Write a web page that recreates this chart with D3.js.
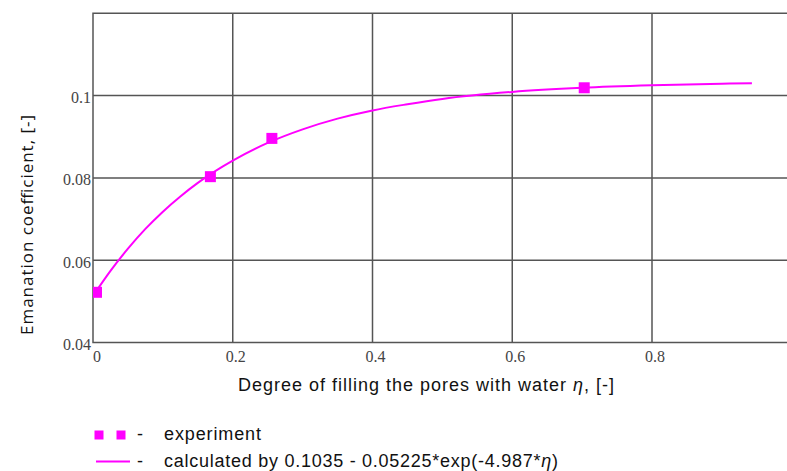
<!DOCTYPE html>
<html><head><meta charset="utf-8">
<script src="https://cdn.jsdelivr.net/npm/d3@7"></script>
<style>body{margin:0;background:#fff;} svg{display:block;}</style>
</head><body>
<svg id="c" width="787" height="471"></svg>
<script>
const xTicks = [0, 0.2, 0.4, 0.6, 0.8];
const yTicks = [0.04, 0.06, 0.08, 0.1];
const expX = [0.005, 0.168, 0.256, 0.703];
const expY = [0.0522, 0.0803, 0.0896, 0.1019];
const calcX = [0, 0.025, 0.05, 0.075, 0.1, 0.125, 0.15, 0.2, 0.25, 0.3, 0.35, 0.4, 0.45, 0.5, 0.6, 0.7, 0.8, 0.9, 0.943];
const calcY = [0.0513, 0.0574, 0.0628, 0.0676, 0.0718, 0.0755, 0.0788, 0.0842, 0.0885, 0.0918, 0.0944, 0.0964, 0.0979, 0.0992, 0.1009, 0.1019, 0.1025, 0.1029, 0.1030];

const svg = d3.select("#c");
const L = 93, T = 13.3, B = 342.5;
const x = d3.scaleLinear().domain([0, 1]).range([L, L + 698.75]);
const y = d3.scaleLinear().domain([0.04, 0.12]).range([B, T]);
const gridCol = "#555";

// grid
svg.append("g").selectAll("line").data(xTicks.slice(1)).join("line")
  .attr("x1", d => x(d)).attr("x2", d => x(d)).attr("y1", T).attr("y2", B)
  .attr("stroke", gridCol).attr("stroke-width", 1.5);
svg.append("g").selectAll("line").data(yTicks.slice(1)).join("line")
  .attr("x1", L).attr("x2", 787).attr("y1", d => y(d)).attr("y2", d => y(d))
  .attr("stroke", gridCol).attr("stroke-width", 1.5);
// frame
svg.append("path").attr("d", `M787,${T}H${L}V${B}H787`).attr("fill", "none")
  .attr("stroke", gridCol).attr("stroke-width", 1.5);

// tick labels
const tf = d3.format("~g");
svg.append("g").selectAll("text").data(yTicks).join("text")
  .attr("x", L - 2).attr("y", d => y(d) + 7.5).attr("text-anchor", "end")
  .attr("font-family", "Liberation Serif").attr("font-size", 16).attr("fill", "#444")
  .text(d => tf(d));
svg.append("g").selectAll("text").data(xTicks).join("text")
  .attr("x", d => x(d) + (d === 0 ? 4 : 3)).attr("y", B + 19.5).attr("text-anchor", "middle")
  .attr("font-family", "Liberation Serif").attr("font-size", 16).attr("fill", "#444")
  .text(d => tf(d));

// clip
svg.append("clipPath").attr("id", "pc").append("rect")
  .attr("x", L).attr("y", T).attr("width", 787 - L).attr("height", B - T);
const g = svg.append("g").attr("clip-path", "url(#pc)");

const line = d3.line().x(d => x(d[0])).y(d => y(d[1])).curve(d3.curveMonotoneX);
g.append("path").datum(calcX.map((v, i) => [v, calcY[i]])).attr("d", line)
  .attr("fill", "none").attr("stroke", "#ff00ff").attr("stroke-width", 2);
const ms = 11;
g.selectAll("rect.m").data(expX.map((v, i) => [v, expY[i]])).join("rect")
  .attr("class", "m").attr("x", d => x(d[0]) - ms / 2).attr("y", d => y(d[1]) - ms / 2)
  .attr("width", ms).attr("height", ms).attr("fill", "#ff00ff");

// axis titles
const xt = svg.append("text").attr("x", 238).attr("y", 391)
  .attr("textLength", 376).attr("lengthAdjust", "spacing")
  .attr("font-family", "Liberation Sans").attr("font-size", 18).attr("fill", "#111");
xt.append("tspan").text("Degree of filling the pores with water ");
xt.append("tspan").attr("font-style", "italic").text("η");
xt.append("tspan").text(", [-]");

svg.append("text").attr("transform", "translate(33,335) rotate(-90)")
  .attr("textLength", 220).attr("lengthAdjust", "spacing")
  .attr("font-family", "Open Sans").attr("font-size", 17).attr("fill", "#111")
  .text("Emanation coefficient, [-]");

// legend
const lg = svg.append("g").attr("font-family", "Liberation Sans").attr("font-size", 18).attr("fill", "#111");
[99, 121].forEach(cx => lg.append("rect").attr("x", cx - 4.5).attr("y", 430.5).attr("width", 9).attr("height", 9).attr("fill", "#ff00ff"));
lg.append("line").attr("x1", 96).attr("x2", 130).attr("y1", 461.5).attr("y2", 461.5).attr("stroke", "#ff00ff").attr("stroke-width", 2);
lg.append("text").attr("x", 137).attr("y", 440).text("-");
lg.append("text").attr("x", 137).attr("y", 467).text("-");
lg.append("text").attr("x", 164).attr("y", 440).attr("textLength", 97).attr("lengthAdjust", "spacing").text("experiment");
const l2 = lg.append("text").attr("x", 164).attr("y", 467).attr("textLength", 394).attr("lengthAdjust", "spacing");
l2.append("tspan").text("calculated by 0.1035 - 0.05225*exp(-4.987*");
l2.append("tspan").attr("font-style", "italic").text("η");
l2.append("tspan").text(")");
</script>
</body></html>
